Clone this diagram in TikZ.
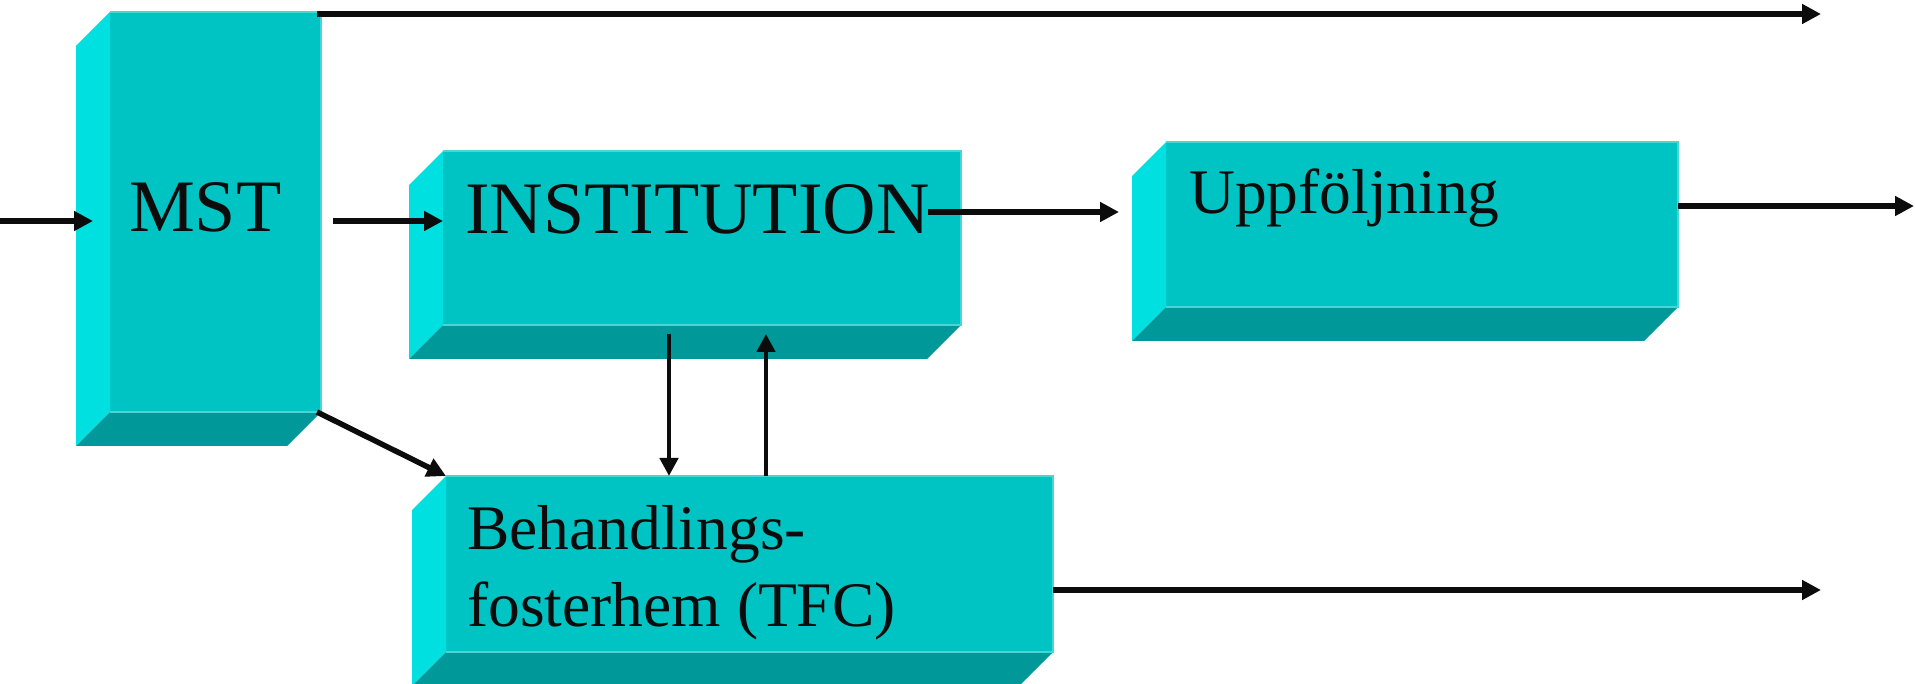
\documentclass[tikz,border=0pt]{standalone}
\usepackage{fontspec}
\setmainfont{Liberation Serif}
\usetikzlibrary{arrows.meta}

\definecolor{facefront}{RGB}{0,196,196}
\definecolor{faceleft}{RGB}{0,224,224}
\definecolor{facebottom}{RGB}{0,152,152}
\definecolor{edgelight}{RGB}{70,214,214}
\definecolor{ink}{RGB}{12,12,12}

\tikzset{
  front/.style={fill=facefront, draw=none, inner sep=0pt, outer sep=0pt, anchor=north west},
  bigtext/.style={font=\fontsize{74}{80}\selectfont, inner sep=0pt, anchor=base west, text=ink},
  midtext/.style={font=\fontsize{63.5}{70}\selectfont, inner sep=0pt, anchor=base west, text=ink},
  arr/.style={draw=ink, line width=5.5pt, -{Triangle[length=19pt,width=19pt]}},
  varr/.style={draw=ink, line width=4.5pt, -{Triangle[length=18pt,width=18pt]}},
}

% left and bottom faces of a bevelled slab whose front face is node #1
\newcommand{\slabsides}[2]{%
  \fill[faceleft] (#1.north west) -- (#1.south west) -- ++(-#2,#2)
    -- ([shift={(-#2pt,-#2pt)}]#1.north west) -- cycle;
  \fill[facebottom] (#1.south west) -- (#1.south east) -- ++(-#2,#2)
    -- ([shift={(-#2pt,-#2pt)}]#1.south west) -- cycle;
  \draw[edgelight, line width=1.2pt] (#1.south west) -- (#1.south east) -- (#1.north east) -- (#1.north west);
}

\begin{document}
\begin{tikzpicture}[x=1pt, y=-1pt]
  \useasboundingbox (0,0) rectangle (1915,684);

  % front faces
  \node[front, minimum width=211pt, minimum height=400pt] (mst)  at (110,12)  {};
  \node[front, minimum width=518pt, minimum height=174pt] (inst) at (443,151) {};
  \node[front, minimum width=512pt, minimum height=165pt] (upp)  at (1166,142) {};
  \node[front, minimum width=607pt, minimum height=176pt] (beh)  at (446,476) {};

  % side faces
  \slabsides{mst}{34}
  \slabsides{inst}{34}
  \slabsides{upp}{34}
  \slabsides{beh}{34}

  % labels
  \node[bigtext] (tmst)  at (129,232)  {MST};
  \node[bigtext] (tinst) at (465,234)  {INSTITUTION};
  \node[midtext] (tupp)  at (1189,214) {Uppföljning};
  \node[midtext] (tbeh1) at (467,549)  {Behandlings-};
  \node[midtext] (tbeh2) at (467,626)  {fosterhem (TFC)};

  % free ends of the connectors
  \coordinate (in)     at (0,221);
  \coordinate (topend) at (1821,14);
  \coordinate (uppout) at (1914,206);
  \coordinate (behout) at (1821,590);
  \path (inst.north east) ++(-33,61) coordinate (i2u);

  % connectors
  \draw[arr, shorten >=17pt] (in) -- (in -| mst.west);
  \draw[arr] ([xshift=12pt]mst.east |- in) -- (inst.west |- in);
  \draw[arr] ([shift={(-4pt,-2pt)}]mst.north east) -- (topend);
  \draw[arr, shorten >=47pt] (i2u) -- (i2u -| upp.west);
  \draw[arr] ([yshift=-64pt]upp.north east) -- (uppout);
  \draw[arr] ([xshift=-4pt]mst.south east) -- (beh.north west);
  \draw[varr] ([shift={(226pt,-9pt)}]inst.south west) -- ([xshift=223pt]beh.north west);
  \draw[varr] ([xshift=320pt]beh.north west) -- ([shift={(323pt,-9pt)}]inst.south west);
  \draw[arr] ([yshift=-26pt]beh.east) -- (behout);
\end{tikzpicture}
\end{document}
